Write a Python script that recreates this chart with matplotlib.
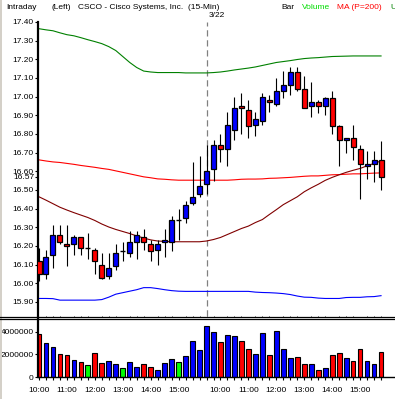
import numpy as np
import pandas as pd
import matplotlib
matplotlib.use("Agg")
import matplotlib.pyplot as plt
from matplotlib.lines import Line2D
from matplotlib.patches import Rectangle
import matplotlib.transforms as mtransforms

plt.rcParams['font.family'] = ['Liberation Sans', 'DejaVu Sans']
plt.rcParams['font.size'] = 6

# CSCO 15-min bars, two sessions (3/21 from 10:00, 3/22 from 9:30)
opens = [16.12, 16.05, 16.15, 16.26, 16.21, 16.21, 16.25, 16.19, 16.18, 16.10, 16.04, 16.09,
         16.17, 16.16, 16.22, 16.25, 16.21, 16.18, 16.22, 16.22, 16.34, 16.35, 16.43, 16.48,
         16.53, 16.61, 16.74, 16.72, 16.82, 16.95, 16.93, 16.85, 16.87, 16.98, 16.96, 17.03,
         17.06, 17.13, 17.04, 16.95, 16.97, 16.95, 16.99, 16.84, 16.77, 16.78, 16.72, 16.63,
         16.64, 16.66]
highs = [16.19, 16.18, 16.31, 16.31, 16.31, 16.26, 16.25, 16.27, 16.19, 16.16, 16.16, 16.21,
         16.22, 16.28, 16.28, 16.29, 16.23, 16.23, 16.29, 16.36, 16.40, 16.44, 16.65, 16.68,
         16.74, 16.77, 16.80, 16.92, 17.00, 17.02, 16.98, 16.92, 17.02, 17.01, 17.10, 17.14,
         17.16, 17.16, 17.11, 17.08, 16.98, 17.00, 17.03, 16.85, 16.78, 16.85, 16.74, 16.71,
         16.71, 16.76]
lows = [16.01, 16.02, 16.08, 16.21, 16.09, 16.15, 16.15, 16.13, 16.05, 16.02, 16.02, 16.07,
        16.12, 16.14, 16.13, 16.18, 16.12, 16.10, 16.14, 16.17, 16.23, 16.32, 16.42, 16.46,
        16.48, 16.55, 16.65, 16.63, 16.77, 16.80, 16.78, 16.79, 16.85, 16.92, 16.95, 16.99,
        17.01, 17.03, 16.94, 16.89, 16.91, 16.90, 16.80, 16.63, 16.70, 16.66, 16.45, 16.56,
        16.54, 16.50]
closes = [16.05, 16.14, 16.26, 16.22, 16.20, 16.25, 16.19, 16.19, 16.12, 16.03, 16.08, 16.16,
          16.17, 16.22, 16.26, 16.22, 16.17, 16.21, 16.23, 16.34, 16.34, 16.42, 16.46, 16.52,
          16.60, 16.74, 16.72, 16.85, 16.94, 16.94, 16.84, 16.88, 17.00, 16.97, 17.03, 17.06,
          17.13, 17.04, 16.94, 16.97, 16.95, 16.99, 16.84, 16.77, 16.78, 16.73, 16.64, 16.64,
          16.66, 16.57]
volume = [3760000, 2970000, 2620000, 2000000, 1910000, 1470000, 1290000, 1030000, 2090000,
          1210000, 1380000, 1120000, 760000, 1290000, 850000, 1120000, 850000, 590000,
          1210000, 1560000, 1290000, 1820000, 3150000, 2350000,
          4470000, 3940000, 3060000, 3680000, 3590000, 3150000, 2440000, 2000000, 3850000,
          1910000, 4060000, 2440000, 1650000, 1740000, 1120000, 1120000, 590000, 760000,
          1910000, 2090000, 1650000, 1380000, 2440000, 1380000, 1120000, 2180000]

# overlay lines
upper_band = [17.364, 17.358, 17.353, 17.342, 17.332, 17.326, 17.316, 17.305, 17.295, 17.284,
              17.268, 17.247, 17.215, 17.183, 17.156, 17.137, 17.132, 17.129, 17.129, 17.129,
              17.129, 17.127, 17.127, 17.127, 17.127, 17.129, 17.132, 17.137, 17.143, 17.148,
              17.153, 17.159, 17.167, 17.175, 17.183, 17.188, 17.193, 17.199, 17.204, 17.207,
              17.209, 17.212, 17.215, 17.216, 17.217, 17.218, 17.218, 17.218, 17.218, 17.218]
ma_200 = [16.661, 16.655, 16.650, 16.647, 16.642, 16.637, 16.631, 16.626, 16.621, 16.615,
          16.610, 16.602, 16.594, 16.586, 16.578, 16.570, 16.565, 16.559, 16.557, 16.554,
          16.552, 16.552, 16.552, 16.552, 16.552, 16.552, 16.552, 16.552, 16.554, 16.557,
          16.558, 16.558, 16.559, 16.562, 16.563, 16.565, 16.567, 16.570, 16.573, 16.575,
          16.575, 16.578, 16.581, 16.582, 16.584, 16.586, 16.586, 16.588, 16.590, 16.591]
ma_short = [16.463, 16.445, 16.426, 16.407, 16.392, 16.378, 16.365, 16.352, 16.336, 16.317,
            16.301, 16.288, 16.277, 16.266, 16.253, 16.242, 16.232, 16.226, 16.224, 16.222,
            16.222, 16.222, 16.222, 16.222, 16.226, 16.234, 16.245, 16.261, 16.277, 16.293,
            16.306, 16.325, 16.341, 16.368, 16.394, 16.421, 16.442, 16.463, 16.490, 16.511,
            16.530, 16.551, 16.567, 16.581, 16.594, 16.605, 16.615, 16.629, 16.642, 16.655]
lower_band = [15.918, 15.918, 15.917, 15.909, 15.909, 15.909, 15.909, 15.909, 15.909, 15.912,
              15.925, 15.941, 15.949, 15.957, 15.965, 15.976, 15.976, 15.971, 15.965, 15.960,
              15.957, 15.956, 15.956, 15.956, 15.956, 15.956, 15.956, 15.956, 15.956, 15.956,
              15.956, 15.952, 15.950, 15.949, 15.947, 15.944, 15.939, 15.931, 15.925, 15.924,
              15.920, 15.918, 15.918, 15.918, 15.923, 15.924, 15.924, 15.927, 15.928, 15.933]

day1 = pd.date_range('2000-03-21 10:00', '2000-03-21 15:45', freq='15min')
day2 = pd.date_range('2000-03-22 09:30', '2000-03-22 15:45', freq='15min')
times = list(day1) + list(day2)
new_day_idx = len(day1)

x = np.arange(len(closes))
o, h, l, c = map(np.array, (opens, highs, lows, closes))
bar_colors = ['#00FF00' if cc == oo else ('#0000FF' if cc > oo else '#FF0000')
              for oo, cc in zip(o, c)]

W, H = 395, 399
fig = plt.figure(figsize=(W / 100, H / 100), dpi=100)
fig.patch.set_facecolor('white')

ax = fig.add_axes([38 / W, 1 - 316 / H, 357 / W, 294 / H])
axv = fig.add_axes([38 / W, 1 - 377 / H, 357 / W, 59 / H], sharex=ax)

# candles
body_w = 0.72
for i in x:
    ax.vlines(i, l[i], h[i], color='black', lw=0.8, zorder=3)
    if c[i] == o[i]:
        ax.hlines(c[i], i - body_w / 2, i + body_w / 2, color='black', lw=1.0, zorder=4)
    else:
        ax.add_patch(Rectangle((i - body_w / 2, min(o[i], c[i])), body_w, abs(c[i] - o[i]),
                               facecolor=bar_colors[i], edgecolor='black', lw=0.9, zorder=4))

ax.plot(x, upper_band, color='#008000', lw=0.8, zorder=2)
ax.plot(x, ma_200, color='#FF0000', lw=0.8, zorder=2)
ax.plot(x, ma_short, color='#800000', lw=0.8, zorder=2)
ax.plot(x, lower_band, color='#0000FF', lw=0.8, zorder=2)

ax.axvline(new_day_idx, color='#808080', lw=0.9, ls=(0, (5, 3)), zorder=1)

ax.set_xlim(-0.143, 51.0)
# y range so that 17.40 sits at ~20px and 15.90 at ~302px
ax.set_ylim(15.824, 17.391)
yt = np.round(np.arange(15.90, 17.41, 0.10), 2)
ax.set_yticks(list(yt) + [c[-1]])
ax.set_yticklabels([f'{v:.2f}' for v in yt] + [''])
ax.tick_params(axis='y', length=2.2, width=0.8, pad=0.8, colors='black')
ax.tick_params(axis='x', bottom=False, labelbottom=False)
for s in ['top', 'right', 'bottom']:
    ax.spines[s].set_visible(False)
ax.spines['left'].set_linewidth(1.6)

# last price tag, drawn over the neighbouring 16.60 label like the original
ax.annotate(f'{c[-1]:.2f}', xy=(0, c[-1]), xycoords=('axes fraction', 'data'),
            xytext=(-2.9, -0.6), textcoords='offset points', ha='right', va='center',
            fontsize=6, zorder=10, annotation_clip=False,
            bbox=dict(boxstyle='square,pad=0.05', fc='white', ec='none'))

trans = mtransforms.blended_transform_factory(ax.transData, ax.transAxes)
ax.text(new_day_idx + 0.35, 1.01, times[new_day_idx].strftime('%-m/%d'),
        transform=trans, ha='left', va='bottom', fontsize=6)

# volume panel
axv.bar(x, volume, width=0.68, color=bar_colors, edgecolor='black', lw=0.8)
axv.set_ylim(0, 5.21e6)
axv.set_yticks([0, 2000000, 4000000])
axv.set_yticklabels(['0', '2000000', '4000000'])
hour_idx = [i for i, t in enumerate(times) if t.minute == 0]
axv.set_xticks(x, minor=True)
axv.set_xticks(hour_idx)
axv.set_xticklabels([times[i].strftime('%H:%M') for i in hour_idx])
axv.tick_params(axis='y', length=2.2, width=0.8, pad=0.8)
axv.tick_params(axis='x', which='both', length=2.2, width=0.8, pad=5)
for s in ['top', 'right']:
    axv.spines[s].set_visible(False)
axv.spines['left'].set_linewidth(1.6)
axv.spines['bottom'].set_linewidth(1.0)

# panel separator (double rule)
for yy in (316.5, 318.5):
    fig.add_artist(Line2D([0, 1], [1 - yy / H] * 2, transform=fig.transFigure,
                          color='black', lw=0.9))
fig.add_artist(Rectangle((0, 0), 2 / W, 1, transform=fig.transFigure,
                         facecolor='#d4d0c8', edgecolor='none'))

# header line
hy = 1 - 9 / H
fig.text(6.7 / W, hy, 'Intraday', va='baseline', fontsize=6)
fig.text(51.7 / W, hy, '(Left)', va='baseline', fontsize=6)
fig.text(77.7 / W, hy, 'CSCO - Cisco Systems, Inc.  (15-Min)', va='baseline', fontsize=6)
fig.text(281.7 / W, hy, 'Bar', va='baseline', fontsize=6)
fig.text(302.3 / W, hy, 'Volume', va='baseline', fontsize=6, color='#00DD00')
fig.text(337.3 / W, hy, 'MA (P=200)', va='baseline', fontsize=6, color='#FF0000')
fig.text(390 / W, hy, 'U', va='baseline', fontsize=6, color='#008000')

plt.savefig('out.png', dpi=100)
